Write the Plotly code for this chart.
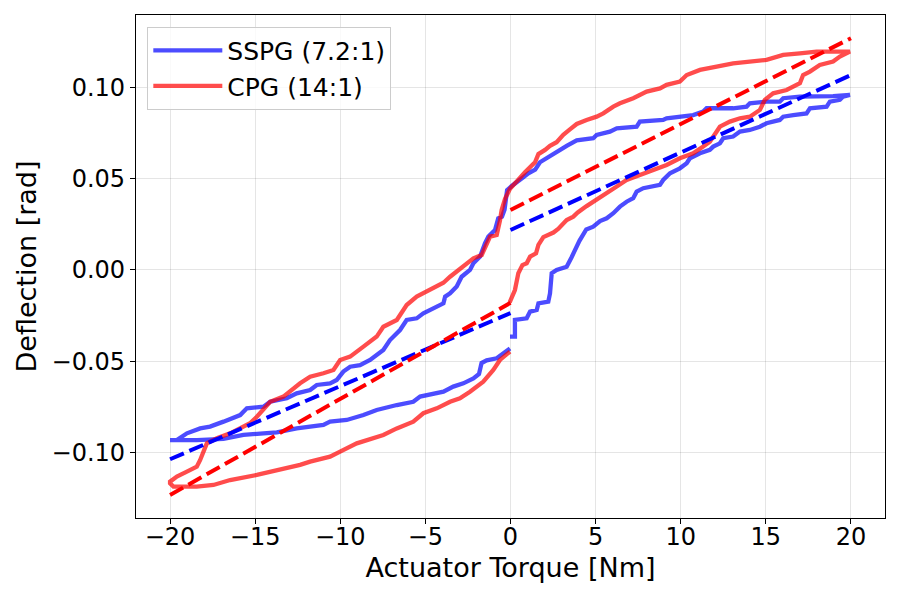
import plotly.graph_objects as go

# ---------------- data ----------------
sspg_torque = [
    -0.03, 0.26, 0.26, 0.95, 1.15, 1.54, 1.64, 2.22, 2.32, 2.42, 2.71, 3.30, 3.59, 3.85, 4.05, 4.45, 4.86, 5.26,
    5.65, 6.04, 6.43, 6.82, 7.21, 7.41, 7.80, 8.78, 8.97, 9.37, 9.95, 10.35, 10.54, 11.13, 11.71, 11.91, 12.30,
    12.50, 13.08, 13.48, 14.06, 14.65, 15.04, 15.82, 16.02, 16.61, 17.39, 17.59, 18.57, 18.76, 19.35, 19.54, 19.94,
    18.95, 17.98, 17.00, 16.02, 15.82, 15.04, 14.06, 13.87, 13.08, 11.52, 11.32, 10.73, 9.17, 8.97, 7.60, 7.41,
    6.24, 5.84, 5.06, 4.86, 3.89, 3.30, 2.52, 2.20, 1.73, 1.45, 1.05, 0.75, 0.40, 0.07, -0.20, -0.35, -0.50, -0.72,
    -0.91, -1.30, -1.50, -1.79, -2.18, -2.38, -2.87, -3.16, -3.55, -3.84, -3.94, -4.33, -4.73, -5.12, -5.51, -6.10,
    -6.49, -7.08, -7.47, -7.86, -8.25, -8.84, -9.42, -9.82, -10.21, -10.60, -11.38, -11.77, -12.56, -13.14, -14.12,
    -14.51, -15.49, -15.88, -16.47, -16.86, -17.65, -18.23, -19.01, -19.60, -20.00,
    -18.43, -16.86, -15.69, -14.51, -13.73, -12.56, -10.99, -10.60, -9.62, -8.64, -7.86, -6.68, -5.71, -5.31,
    -4.73, -3.94, -3.36, -2.77, -2.18, -1.85, -1.70, -1.40, -0.81, -0.35, -0.03,
]
sspg_defl = [
    -0.0365, -0.0365, -0.0274, -0.0265, -0.0228, -0.0219, -0.0183, -0.0174, -0.0128, -0.0018, 0.0000, 0.0018,
    0.0070, 0.0120, 0.0160, 0.0222, 0.0237, 0.0268, 0.0283, 0.0311, 0.0347, 0.0374, 0.0393, 0.0429, 0.0448,
    0.0466, 0.0493, 0.0530, 0.0557, 0.0585, 0.0612, 0.0639, 0.0658, 0.0676, 0.0694, 0.0722, 0.0731, 0.0758,
    0.0767, 0.0785, 0.0804, 0.0822, 0.0840, 0.0849, 0.0858, 0.0886, 0.0895, 0.0922, 0.0932, 0.0950, 0.0959,
    0.0953, 0.0950, 0.0950, 0.0941, 0.0922, 0.0922, 0.0913, 0.0895, 0.0886, 0.0886, 0.0868, 0.0849, 0.0831,
    0.0822, 0.0813, 0.0785, 0.0776, 0.0758, 0.0740, 0.0722, 0.0710, 0.0680, 0.0635, 0.0615, 0.0590, 0.0550,
    0.0530, 0.0508, 0.0485, 0.0460, 0.0438, 0.0330, 0.0292, 0.0283, 0.0219, 0.0183, 0.0146, 0.0073, 0.0037,
    0.0000, -0.0037, -0.0091, -0.0128, -0.0146, -0.0183, -0.0201, -0.0219, -0.0237, -0.0265, -0.0274, -0.0329,
    -0.0384, -0.0438, -0.0466, -0.0493, -0.0521, -0.0530, -0.0557, -0.0603, -0.0621, -0.0630, -0.0658, -0.0676,
    -0.0703, -0.0722, -0.0749, -0.0758, -0.0795, -0.0813, -0.0831, -0.0858, -0.0868, -0.0895, -0.0932, -0.0932,
    -0.0932, -0.0926, -0.0904, -0.0895, -0.0890, -0.0868, -0.0849, -0.0831, -0.0822, -0.0795, -0.0767, -0.0740,
    -0.0722, -0.0694, -0.0685, -0.0667, -0.0639, -0.0621, -0.0594, -0.0570, -0.0510, -0.0495, -0.0484, -0.0455,
    -0.0430,
]

cpg_torque = [
    -0.05, 0.26, 0.46, 0.70, 0.95, 1.15, 1.50, 1.64, 1.93, 2.25, 2.52, 2.80, 3.30, 3.69, 3.95, 4.47, 5.06, 5.65,
    6.24, 6.82, 7.60, 8.39, 9.17, 9.95, 10.73, 11.32, 11.71, 12.30, 12.89, 13.48, 14.06, 14.65, 14.94, 15.43,
    16.22, 17.00, 17.19, 17.59, 18.17, 18.95, 19.35, 19.94,
    18.95, 17.98, 17.00, 16.02, 15.04, 14.06, 13.08, 12.11, 11.13, 10.35, 9.95, 9.17, 8.78, 8.00, 7.21, 6.43,
    6.04, 5.45, 5.06, 4.47, 3.89, 3.49, 3.10, 2.71, 2.32, 2.03, 1.64, 1.44, 1.15, 0.85, 0.46, 0.17, -0.03, -0.32,
    -0.52, -0.62, -0.81, -1.20, -1.50, -1.69, -2.18, -2.57, -2.97, -3.36, -3.55, -3.94, -4.53, -5.12, -5.51,
    -6.10, -6.68, -7.47, -7.86, -8.64, -9.42, -10.01, -10.40, -10.99, -11.77, -12.36, -12.95, -13.34, -14.12,
    -14.51, -14.90, -15.30, -15.69, -16.47, -17.25, -17.84, -18.23, -18.43, -19.01, -19.60, -20.00,
    -20.00, -19.80, -18.43, -17.45, -16.47, -14.90, -13.53, -12.36, -11.77, -10.60, -10.01, -9.03, -7.47, -6.68,
    -5.71, -5.12, -4.33, -3.55, -2.97, -2.38, -1.60, -1.01, -0.62, -0.03,
]
cpg_defl = [
    -0.0178, -0.0110, -0.0018, 0.0027, 0.0037, 0.0073, 0.0091, 0.0137, 0.0180, 0.0192, 0.0205, 0.0225, 0.0274,
    0.0292, 0.0315, 0.0350, 0.0384, 0.0420, 0.0457, 0.0493, 0.0521, 0.0548, 0.0575, 0.0612, 0.0639, 0.0676,
    0.0703, 0.0785, 0.0813, 0.0831, 0.0840, 0.0877, 0.0932, 0.0968, 0.0986, 0.1023, 0.1068, 0.1087, 0.1123,
    0.1142, 0.1169, 0.1196,
    0.1196, 0.1196, 0.1187, 0.1178, 0.1151, 0.1142, 0.1132, 0.1114, 0.1096, 0.1068, 0.1032, 0.1014, 0.0995,
    0.0977, 0.0941, 0.0913, 0.0895, 0.0858, 0.0840, 0.0822, 0.0800, 0.0770, 0.0740, 0.0700, 0.0680, 0.0658,
    0.0635, 0.0590, 0.0566, 0.0535, 0.0495, 0.0466, 0.0445, 0.0390, 0.0329, 0.0270, 0.0192, 0.0183, 0.0128,
    0.0082, 0.0064, 0.0037, 0.0010, -0.0018, -0.0037, -0.0070, -0.0100, -0.0128, -0.0146, -0.0192, -0.0274,
    -0.0311, -0.0365, -0.0420, -0.0475, -0.0493, -0.0548, -0.0566, -0.0585, -0.0621, -0.0667, -0.0694, -0.0722,
    -0.0767, -0.0804, -0.0840, -0.0858, -0.0895, -0.0922, -0.0950, -0.1041, -0.1078, -0.1105, -0.1132, -0.1160,
    -0.1169, -0.1187, -0.1187, -0.1178, -0.1151, -0.1123, -0.1096, -0.1068, -0.1050, -0.1023, -0.0995, -0.0950,
    -0.0904, -0.0868, -0.0831, -0.0785, -0.0758, -0.0722, -0.0703, -0.0667, -0.0612, -0.0548, -0.0493, -0.0447,
]

# linear fits, separate for negative and positive torque
fit_torque_neg = [-20, 0]
fit_torque_pos = [0, 20]
sspg_fit_neg = [-0.1037, -0.0236]
sspg_fit_pos = [0.0219, 0.1068]
cpg_fit_neg = [-0.1233, -0.0180]
cpg_fit_pos = [0.0329, 0.1270]

series_names = ["SSPG (7.2:1)", "CPG (14:1)"]
x_ticks = [-20, -15, -10, -5, 0, 5, 10, 15, 20]
y_ticks = [-0.10, -0.05, 0.00, 0.05, 0.10]

# ---------------- figure ----------------
FONT = "DejaVu Sans"
fig = go.Figure()

fig.add_trace(go.Scatter(x=sspg_torque, y=sspg_defl, mode="lines", name=series_names[0],
                         line=dict(color="rgba(0,0,255,0.7)", width=4.3)))
fig.add_trace(go.Scatter(x=cpg_torque, y=cpg_defl, mode="lines", name=series_names[1],
                         line=dict(color="rgba(255,0,0,0.7)", width=4.3)))

for xs, ys, col in [(fit_torque_neg, sspg_fit_neg, "blue"), (fit_torque_pos, sspg_fit_pos, "blue"),
                    (fit_torque_neg, cpg_fit_neg, "red"), (fit_torque_pos, cpg_fit_pos, "red")]:
    fig.add_trace(go.Scatter(x=xs, y=ys, mode="lines", showlegend=False, hoverinfo="skip",
                             line=dict(color=col, width=4.0, dash="15px,6px")))

axis_common = dict(
    showline=True, linecolor="black", linewidth=1.2, mirror=True,
    ticks="outside", ticklen=5, tickwidth=1.2, tickcolor="black",
    showgrid=True, gridcolor="rgba(0,0,0,0.1)", gridwidth=1,
    zeroline=False, tickfont=dict(family=FONT, size=24, color="black"),
)

fig.update_layout(
    width=900, height=600,
    paper_bgcolor="white", plot_bgcolor="white",
    margin=dict(l=128, r=23, t=7, b=90),
    font=dict(family=FONT, color="black"),
    xaxis=dict(axis_common, range=[-22, 22], tickvals=x_ticks, ticklabelstandoff=-8,
               title=dict(text="Actuator Torque [Nm]", font=dict(family=FONT, size=27), standoff=8)),
    yaxis=dict(axis_common, range=[-0.1359, 0.1397], tickvals=y_ticks, tickformat=".2f",
               title=dict(text="Deflection [rad]", font=dict(family=FONT, size=27), standoff=7)),
    legend=dict(x=0.0151, y=0.977, xanchor="left", yanchor="top",
                bgcolor="rgba(255,255,255,0.8)", bordercolor="#cccccc", borderwidth=1,
                font=dict(family=FONT, size=25), tracegroupgap=0, itemwidth=69),
    showlegend=True,
)

fig.write_html("out.html")
